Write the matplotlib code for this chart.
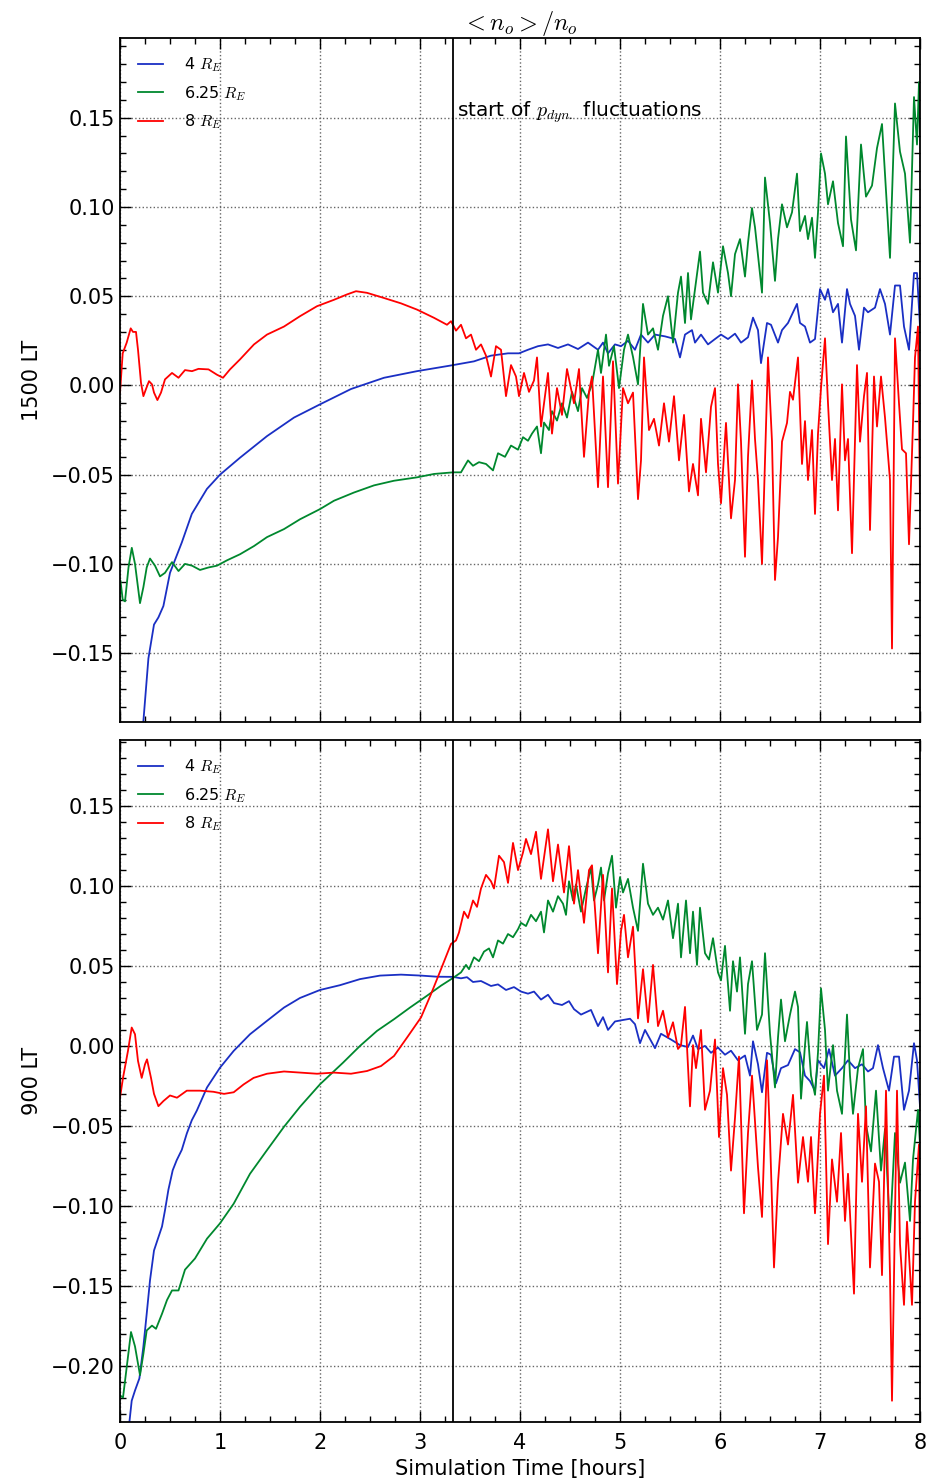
import numpy as np
import matplotlib
matplotlib.use("Agg")
import matplotlib.pyplot as plt
from matplotlib.ticker import MultipleLocator, FuncFormatter

plt.rcParams['mathtext.fontset'] = 'cm'
plt.rcParams['font.family'] = 'DejaVu Sans'

# ---- 1500 LT panel ----
t_top_4 = [0.234, 0.284, 0.34, 0.384, 0.434, 0.50, 0.618, 0.718, 0.869, 1.0, 1.20, 1.47, 1.74, 2.0,
           2.31, 2.64, 2.97, 3.31, 3.54, 3.71, 3.88, 3.99, 4.08, 4.18, 4.28, 4.38, 4.48, 4.58, 4.68,
           4.78, 4.83, 4.88, 4.95, 5.01, 5.08, 5.15, 5.21, 5.28, 5.35, 5.45, 5.55, 5.60, 5.65, 5.72,
           5.75, 5.81, 5.88, 5.95, 6.01, 6.08, 6.15, 6.21, 6.28, 6.33, 6.38, 6.41, 6.47, 6.51, 6.58,
           6.62, 6.68, 6.77, 6.80, 6.85, 6.90, 6.95, 7.00, 7.05, 7.08, 7.13, 7.18, 7.22, 7.27, 7.30,
           7.35, 7.39, 7.44, 7.48, 7.55, 7.60, 7.65, 7.70, 7.75, 7.80, 7.84, 7.89, 7.94, 7.97, 8.0]
v_top_4 = [-0.188, -0.153, -0.134, -0.130, -0.1236, -0.105, -0.088, -0.072, -0.058, -0.050, -0.0405,
           -0.0284, -0.018, -0.0106, -0.002, 0.0043, 0.008, 0.0112, 0.0135, 0.0167, 0.018, 0.018, 0.020,
           0.022, 0.023, 0.021, 0.023, 0.0204, 0.024, 0.020, 0.024, 0.018, 0.023, 0.022, 0.025, 0.020,
           0.0285, 0.024, 0.0285, 0.0275, 0.026, 0.0157, 0.0285, 0.031, 0.024, 0.0285, 0.023, 0.026,
           0.0285, 0.026, 0.029, 0.024, 0.027, 0.038, 0.031, 0.0125, 0.035, 0.034, 0.024, 0.031, 0.035,
           0.0457, 0.035, 0.033, 0.024, 0.026, 0.054, 0.048, 0.054, 0.041, 0.0457, 0.024, 0.054, 0.0457,
           0.039, 0.020, 0.0436, 0.041, 0.0436, 0.054, 0.0457, 0.0285, 0.056, 0.056, 0.033, 0.020, 0.063,
           0.063, 0.033]

t_top_625 = [0.005, 0.027, 0.05, 0.085, 0.118, 0.15, 0.20, 0.234, 0.267, 0.30, 0.35, 0.40, 0.45, 0.52,
             0.585, 0.65, 0.72, 0.80, 0.885, 0.97, 1.07, 1.2, 1.34, 1.47, 1.64, 1.80, 2.0, 2.14, 2.34,
             2.54, 2.74, 2.97, 3.14, 3.33, 3.41, 3.48, 3.53, 3.59, 3.66, 3.73, 3.78, 3.85, 3.91, 3.98,
             4.03, 4.08, 4.12, 4.17, 4.21, 4.24, 4.29, 4.32, 4.37, 4.42, 4.47, 4.52, 4.58, 4.62, 4.67,
             4.72, 4.78, 4.81, 4.86, 4.89, 4.94, 4.99, 5.04, 5.08, 5.13, 5.18, 5.23, 5.28, 5.33, 5.38,
             5.43, 5.48, 5.53, 5.58, 5.61, 5.65, 5.68, 5.71, 5.75, 5.80, 5.83, 5.88, 5.93, 5.98, 6.03,
             6.08, 6.11, 6.15, 6.20, 6.25, 6.28, 6.32, 6.35, 6.42, 6.45, 6.50, 6.55, 6.58, 6.62, 6.67,
             6.72, 6.77, 6.80, 6.85, 6.88, 6.92, 6.95, 6.98, 7.01, 7.05, 7.08, 7.13, 7.18, 7.23, 7.26,
             7.31, 7.36, 7.41, 7.46, 7.52, 7.57, 7.62, 7.65, 7.70, 7.75, 7.80, 7.85, 7.90, 7.94, 7.97,
             7.99, 8.0]
v_top_625 = [-0.1096, -0.120, -0.121, -0.102, -0.091, -0.100, -0.122, -0.113, -0.102, -0.097, -0.101,
             -0.107, -0.105, -0.099, -0.104, -0.100, -0.101, -0.1034, -0.102, -0.101, -0.098, -0.0946,
             -0.090, -0.085, -0.0805, -0.075, -0.0693, -0.0646, -0.060, -0.056, -0.0534, -0.0515,
             -0.0496, -0.0487, -0.0487, -0.042, -0.045, -0.043, -0.044, -0.0476, -0.038, -0.040,
             -0.0337, -0.036, -0.029, -0.031, -0.027, -0.023, -0.038, -0.0208, -0.025, -0.0144, -0.0197,
             -0.010, -0.018, -0.0036, -0.0144, -0.0015, -0.007, 0.0006, 0.020, 0.007, 0.0285, 0.011,
             0.022, -0.0015, 0.020, 0.0285, 0.016, 0.0006, 0.0457, 0.0285, 0.032, 0.020, 0.039, 0.050,
             0.024, 0.052, 0.061, 0.035, 0.063, 0.037, 0.054, 0.075, 0.052, 0.0457, 0.069, 0.052, 0.078,
             0.063, 0.050, 0.0736, 0.082, 0.061, 0.080, 0.0994, 0.0886, 0.052, 0.1165, 0.091, 0.0586,
             0.082, 0.1015, 0.0886, 0.097, 0.1187, 0.0865, 0.095, 0.082, 0.094, 0.0715, 0.097, 0.130,
             0.1187, 0.1015, 0.1144, 0.091, 0.078, 0.1395, 0.093, 0.0757, 0.135, 0.1058, 0.112, 0.133,
             0.1465, 0.118, 0.0715, 0.158, 0.131, 0.1187, 0.080, 0.1616, 0.135, 0.170, 0.140]

t_top_8 = [0.0, 0.027, 0.067, 0.107, 0.13, 0.16, 0.18, 0.21, 0.234, 0.26, 0.29, 0.32, 0.34, 0.374,
           0.41, 0.45, 0.52, 0.585, 0.65, 0.72, 0.785, 0.885, 0.97, 1.03, 1.1, 1.2, 1.34, 1.47, 1.64,
           1.80, 1.97, 2.14, 2.27, 2.36, 2.47, 2.64, 2.81, 2.97, 3.14, 3.27, 3.31, 3.36, 3.41, 3.46,
           3.51, 3.56, 3.61, 3.66, 3.71, 3.76, 3.81, 3.86, 3.91, 3.96, 3.99, 4.04, 4.09, 4.14, 4.17,
           4.21, 4.28, 4.32, 4.37, 4.42, 4.47, 4.54, 4.59, 4.64, 4.69, 4.72, 4.78, 4.83, 4.88, 4.93,
           4.98, 5.03, 5.08, 5.13, 5.18, 5.21, 5.24, 5.29, 5.34, 5.39, 5.44, 5.49, 5.54, 5.59, 5.64,
           5.69, 5.73, 5.78, 5.81, 5.86, 5.91, 5.95, 5.98, 6.01, 6.06, 6.11, 6.15, 6.18, 6.21, 6.25,
           6.28, 6.32, 6.35, 6.38, 6.42, 6.45, 6.48, 6.52, 6.55, 6.58, 6.62, 6.67, 6.70, 6.73, 6.78,
           6.82, 6.85, 6.88, 6.92, 6.95, 6.98, 7.01, 7.05, 7.08, 7.12, 7.15, 7.18, 7.22, 7.25, 7.28,
           7.32, 7.37, 7.40, 7.44, 7.47, 7.50, 7.54, 7.57, 7.61, 7.65, 7.70, 7.72, 7.75, 7.79, 7.82,
           7.86, 7.89, 7.93, 7.95, 7.98, 8.0]
v_top_8 = [-0.004, 0.018, 0.024, 0.032, 0.030, 0.030, 0.020, 0.0015, -0.006, -0.002, 0.0024, 0.0006,
           -0.004, -0.0082, -0.004, 0.0034, 0.007, 0.0043, 0.0086, 0.008, 0.0093, 0.009, 0.006, 0.0043,
           0.009, 0.0146, 0.023, 0.0285, 0.033, 0.0388, 0.0444, 0.048, 0.051, 0.0528, 0.0519, 0.049,
           0.046, 0.0425, 0.0379, 0.034, 0.036, 0.0307, 0.034, 0.0264, 0.0285, 0.020, 0.023, 0.0167,
           0.005, 0.022, 0.020, -0.006, 0.0114, 0.005, -0.006, 0.007, -0.0036, 0.0028, 0.0157, -0.023,
           0.007, -0.027, -0.0015, -0.0165, 0.0092, -0.010, 0.0092, -0.040, -0.0036, 0.005, -0.057,
           0.005, -0.057, 0.0135, -0.055, -0.0015, -0.010, -0.004, -0.0637, -0.042, 0.0157, -0.025,
           -0.0187, -0.0337, -0.010, -0.0315, -0.006, -0.042, -0.0165, -0.0594, -0.044, -0.0616,
           -0.0187, -0.0487, -0.012, -0.0015, -0.044, -0.066, -0.021, -0.0745, -0.053, 0.0006, -0.0315,
           -0.096, -0.040, 0.0028, -0.030, -0.053, -0.100, -0.042, 0.0157, -0.0315, -0.109, -0.085,
           -0.0315, -0.021, -0.0036, -0.008, 0.0157, -0.044, -0.020, -0.053, -0.025, -0.072, -0.027,
           -0.0015, 0.0264, -0.010, -0.053, -0.030, -0.070, 0.0006, -0.042, -0.030, -0.094, 0.0114,
           -0.0315, -0.006, 0.007, -0.081, 0.005, -0.023, 0.005, -0.018, -0.053, -0.1474, 0.0264,
           -0.010, -0.0358, -0.038, -0.089, -0.021, 0.0157, 0.033, -0.066]

# ---- 900 LT panel ----
t_bot_4 = [0.094, 0.117, 0.15, 0.194, 0.234, 0.267, 0.30, 0.34, 0.374, 0.42, 0.45, 0.484, 0.527,
           0.567, 0.618, 0.668, 0.718, 0.768, 0.87, 1.0, 1.137, 1.30, 1.47, 1.64, 1.80, 2.0, 2.20,
           2.40, 2.60, 2.81, 3.01, 3.17, 3.33, 3.41, 3.47, 3.53, 3.61, 3.71, 3.78, 3.86, 3.94, 4.01,
           4.08, 4.14, 4.21, 4.28, 4.34, 4.42, 4.49, 4.54, 4.61, 4.71, 4.78, 4.83, 4.88, 4.95, 5.01,
           5.10, 5.15, 5.20, 5.25, 5.35, 5.41, 5.51, 5.60, 5.68, 5.73, 5.78, 5.85, 5.91, 5.98, 6.05,
           6.11, 6.18, 6.25, 6.30, 6.33, 6.38, 6.42, 6.47, 6.51, 6.56, 6.61, 6.68, 6.75, 6.80, 6.85,
           6.90, 6.95, 6.98, 7.04, 7.09, 7.15, 7.22, 7.28, 7.35, 7.42, 7.48, 7.53, 7.58, 7.63, 7.69,
           7.74, 7.79, 7.84, 7.89, 7.94, 7.97, 8.0]
v_bot_4 = [-0.2354, -0.222, -0.2156, -0.208, -0.188, -0.1676, -0.1467, -0.128, -0.1216, -0.113,
           -0.1028, -0.090, -0.0778, -0.0715, -0.065, -0.0548, -0.0465, -0.0405, -0.026, -0.0136,
           -0.0031, 0.0073, 0.0157, 0.024, 0.030, 0.035, 0.038, 0.0418, 0.044, 0.0446, 0.044, 0.0433,
           0.0432, 0.0423, 0.043, 0.040, 0.0406, 0.0375, 0.0385, 0.035, 0.0368, 0.034, 0.0327, 0.034,
           0.029, 0.032, 0.0268, 0.0256, 0.028, 0.023, 0.0196, 0.0225, 0.0124, 0.018, 0.010, 0.0153,
           0.016, 0.017, 0.0136, 0.0017, 0.010, -0.0014, 0.0076, 0.004, 0.0005, -0.0007, 0.0065,
           -0.002, 0.0, -0.0043, -0.001, -0.0055, -0.003, -0.009, -0.006, -0.0186, 0.0029, -0.0115,
           -0.029, -0.0043, -0.0055, -0.0234, -0.0139, -0.012, -0.002, -0.004, -0.0186, -0.022, -0.028,
           -0.009, -0.0139, -0.002, -0.0186, -0.0139, -0.009, -0.0139, -0.0115, -0.016, -0.0139,
           0.0005, -0.0139, -0.028, -0.0067, -0.0067, -0.040, -0.028, 0.0017, -0.009, -0.0378]

t_bot_625 = [0.0, 0.03, 0.067, 0.11, 0.15, 0.20, 0.234, 0.267, 0.32, 0.36, 0.42, 0.47, 0.52, 0.585,
             0.65, 0.75, 0.87, 1.0, 1.137, 1.30, 1.47, 1.64, 1.80, 2.0, 2.23, 2.40, 2.57, 2.74, 2.90,
             3.07, 3.21, 3.33, 3.41, 3.46, 3.49, 3.54, 3.59, 3.64, 3.69, 3.73, 3.78, 3.83, 3.88, 3.93,
             3.98, 4.01, 4.06, 4.11, 4.16, 4.21, 4.24, 4.28, 4.33, 4.38, 4.43, 4.46, 4.49, 4.53, 4.56,
             4.61, 4.66, 4.71, 4.74, 4.78, 4.81, 4.84, 4.88, 4.92, 4.96, 5.0, 5.03, 5.08, 5.13, 5.18,
             5.23, 5.28, 5.33, 5.38, 5.43, 5.48, 5.53, 5.58, 5.61, 5.66, 5.70, 5.73, 5.77, 5.80, 5.85,
             5.89, 5.93, 5.98, 6.01, 6.05, 6.10, 6.13, 6.17, 6.20, 6.25, 6.28, 6.32, 6.37, 6.42, 6.45,
             6.50, 6.55, 6.58, 6.61, 6.65, 6.70, 6.75, 6.78, 6.81, 6.85, 6.87, 6.91, 6.95, 6.98, 7.01,
             7.05, 7.08, 7.13, 7.17, 7.22, 7.27, 7.30, 7.33, 7.38, 7.43, 7.46, 7.51, 7.56, 7.61, 7.65,
             7.70, 7.75, 7.80, 7.85, 7.90, 7.93, 7.98, 8.0]
v_bot_625 = [-0.2187, -0.220, -0.201, -0.179, -0.188, -0.206, -0.1926, -0.178, -0.175, -0.177,
             -0.1676, -0.159, -0.153, -0.153, -0.140, -0.133, -0.1206, -0.111, -0.0987, -0.080,
             -0.0652, -0.0506, -0.0381, -0.024, -0.0105, 0.0, 0.0094, 0.0167, 0.024, 0.0314, 0.0377,
             0.0425, 0.046, 0.0507, 0.048, 0.0554, 0.053, 0.059, 0.061, 0.0554, 0.066, 0.064, 0.070,
             0.068, 0.073, 0.077, 0.075, 0.082, 0.078, 0.084, 0.071, 0.091, 0.084, 0.0937, 0.089, 0.082,
             0.103, 0.091, 0.101, 0.084, 0.0985, 0.1116, 0.091, 0.101, 0.1116, 0.091, 0.108, 0.119,
             0.0865, 0.1056, 0.096, 0.1045, 0.0865, 0.072, 0.114, 0.089, 0.082, 0.0865, 0.079, 0.091,
             0.0674, 0.089, 0.0554, 0.091, 0.058, 0.084, 0.0507, 0.0865, 0.058, 0.054, 0.0674, 0.046,
             0.041, 0.0626, 0.022, 0.053, 0.034, 0.0554, 0.0076, 0.0387, 0.053, 0.010, 0.0196, 0.058,
             0.0076, -0.026, 0.0053, 0.029, 0.0029, 0.0196, 0.034, 0.0244, -0.033, 0.0005, 0.015,
             -0.0186, -0.0306, -0.004, 0.036, 0.010, -0.028, 0.0005, -0.028, -0.0425, 0.0196, -0.0186,
             -0.0425, -0.0139, -0.002, -0.0495, -0.066, -0.028, -0.078, -0.052, -0.1166, -0.0545,
             -0.0856, -0.073, -0.1095, -0.071, -0.040, -0.0617]

t_bot_8 = [0.0, 0.03, 0.08, 0.117, 0.15, 0.18, 0.217, 0.25, 0.27, 0.31, 0.34, 0.384, 0.434, 0.50,
           0.57, 0.668, 0.80, 0.935, 1.04, 1.137, 1.236, 1.336, 1.47, 1.64, 1.80, 1.97, 2.14, 2.31,
           2.47, 2.61, 2.74, 2.87, 3.01, 3.11, 3.21, 3.31, 3.36, 3.39, 3.44, 3.48, 3.53, 3.57, 3.61,
           3.66, 3.71, 3.74, 3.79, 3.84, 3.88, 3.93, 3.98, 4.03, 4.06, 4.11, 4.16, 4.21, 4.28, 4.33,
           4.38, 4.44, 4.49, 4.54, 4.58, 4.64, 4.69, 4.72, 4.78, 4.83, 4.88, 4.92, 4.97, 5.01, 5.04,
           5.08, 5.13, 5.18, 5.23, 5.28, 5.33, 5.38, 5.43, 5.48, 5.53, 5.58, 5.61, 5.65, 5.70, 5.73,
           5.76, 5.81, 5.85, 5.90, 5.95, 5.99, 6.03, 6.07, 6.11, 6.15, 6.19, 6.24, 6.28, 6.32, 6.38,
           6.42, 6.47, 6.50, 6.54, 6.58, 6.63, 6.68, 6.73, 6.78, 6.83, 6.88, 6.91, 6.95, 7.00, 7.04,
           7.08, 7.12, 7.17, 7.21, 7.25, 7.28, 7.34, 7.38, 7.42, 7.46, 7.50, 7.55, 7.59, 7.62, 7.66,
           7.70, 7.72, 7.77, 7.80, 7.84, 7.87, 7.92, 7.95, 7.99, 8.0]
v_bot_8 = [-0.0324, -0.020, -0.003, 0.0115, 0.0073, -0.0094, -0.020, -0.0115, -0.0084, -0.020,
           -0.030, -0.0377, -0.0345, -0.031, -0.0324, -0.028, -0.028, -0.0287, -0.030, -0.029,
           -0.0241, -0.020, -0.0174, -0.016, -0.0167, -0.0174, -0.0167, -0.0174, -0.0157, -0.0126,
           -0.0063, 0.0052, 0.0178, 0.0324, 0.048, 0.0638, 0.066, 0.071, 0.084, 0.080, 0.091, 0.087,
           0.0985, 0.107, 0.103, 0.0985, 0.119, 0.115, 0.102, 0.127, 0.110, 0.121, 0.1295, 0.120,
           0.134, 0.1045, 0.1355, 0.103, 0.126, 0.096, 0.125, 0.089, 0.110, 0.077, 0.110, 0.113,
           0.058, 0.107, 0.046, 0.0985, 0.0387, 0.072, 0.082, 0.0554, 0.0746, 0.0172, 0.048, 0.0148,
           0.0507, 0.0124, 0.022, 0.0053, 0.0148, -0.0019, 0.0005, 0.0244, -0.0378, 0.0005, -0.0139,
           0.010, -0.040, -0.028, 0.004, -0.057, -0.0139, -0.0306, -0.078, -0.045, -0.0067, -0.1047,
           -0.0545, -0.0186, -0.076, -0.107, -0.009, -0.057, -0.1386, -0.0856, -0.0425, -0.0617,
           -0.0306, -0.0856, -0.057, -0.085, -0.057, -0.1047, -0.0425, -0.0186, -0.124, -0.071,
           -0.0975, -0.0545, -0.1095, -0.080, -0.155, -0.0425, -0.085, -0.0378, -0.1386, -0.0736,
           -0.085, -0.1434, -0.028, -0.1434, -0.222, -0.028, -0.124, -0.162, -0.110, -0.162, -0.0975,
           -0.0617, -0.157]

labels = ['4 $R_E$', '6.25 $R_E$', '8 $R_E$']
colors = ['#1a2fc4', '#00882e', '#ff0000']
t_start = 3.333

panels = [
    ('1500 LT', [(t_top_4, v_top_4), (t_top_625, v_top_625), (t_top_8, v_top_8)],
     (-0.1886, 0.1947), [120, 38, 920, 722]),
    ('900 LT', [(t_bot_4, v_bot_4), (t_bot_625, v_bot_625), (t_bot_8, v_bot_8)],
     (-0.2353, 0.1914), [120, 740, 920, 1422]),
]

yfmt = FuncFormatter(lambda y, pos: f'{y:.2f}'.replace('-', '\u2212'))

W, H = 927, 1481
fig = plt.figure(figsize=(W / 100, H / 100), dpi=100)
axes = []
for name, series, ylim, (x0, y0, x1, y1) in panels:
    ax = fig.add_axes([x0 / W, 1 - y1 / H, (x1 - x0) / W, (y1 - y0) / H])
    for (t, v), lab, c in zip(series, labels, colors):
        ax.plot(t, v, color=c, lw=1.3, label=lab)
    ax.axvline(t_start, color='k', lw=1.3)
    ax.set_xlim(0, 8)
    ax.set_ylim(*ylim)
    ax.xaxis.set_major_locator(MultipleLocator(1))
    ax.xaxis.set_minor_locator(MultipleLocator(0.25))
    ax.yaxis.set_major_locator(MultipleLocator(0.05))
    ax.yaxis.set_minor_locator(MultipleLocator(0.01))
    ax.yaxis.set_major_formatter(yfmt)
    ax.tick_params(which='both', direction='in', top=True, right=True, labelsize=15)
    ax.tick_params(which='major', length=8, width=1)
    ax.tick_params(which='minor', length=4, width=1)
    ax.tick_params(axis='x', pad=8)
    ax.grid(True, which='major', color='#666666', linestyle=':', linewidth=1)
    for s in ax.spines.values():
        s.set_linewidth(1.3)
    ax.set_ylabel(name, fontsize=15)
    ax.yaxis.set_label_coords(-0.098, 0.5)
    ax.legend(loc='upper left', frameon=False, fontsize=11.5, handlelength=1.6,
              handletextpad=1.3, labelspacing=0.6, borderaxespad=0.7)
    axes.append(ax)

ax_top, ax_bot = axes
ax_top.tick_params(labelbottom=False)
ax_top.set_title('$<n_o>/n_o$', fontsize=17.5, pad=5)
ax_top.text(3.37, 0.153, 'start of $p_{dyn.}$ fluctuations', fontsize=14.5, va='center', ha='left')
ax_bot.set_xlabel('Simulation Time [hours]', fontsize=15, labelpad=4)

fig.savefig('out.png', dpi=100)
